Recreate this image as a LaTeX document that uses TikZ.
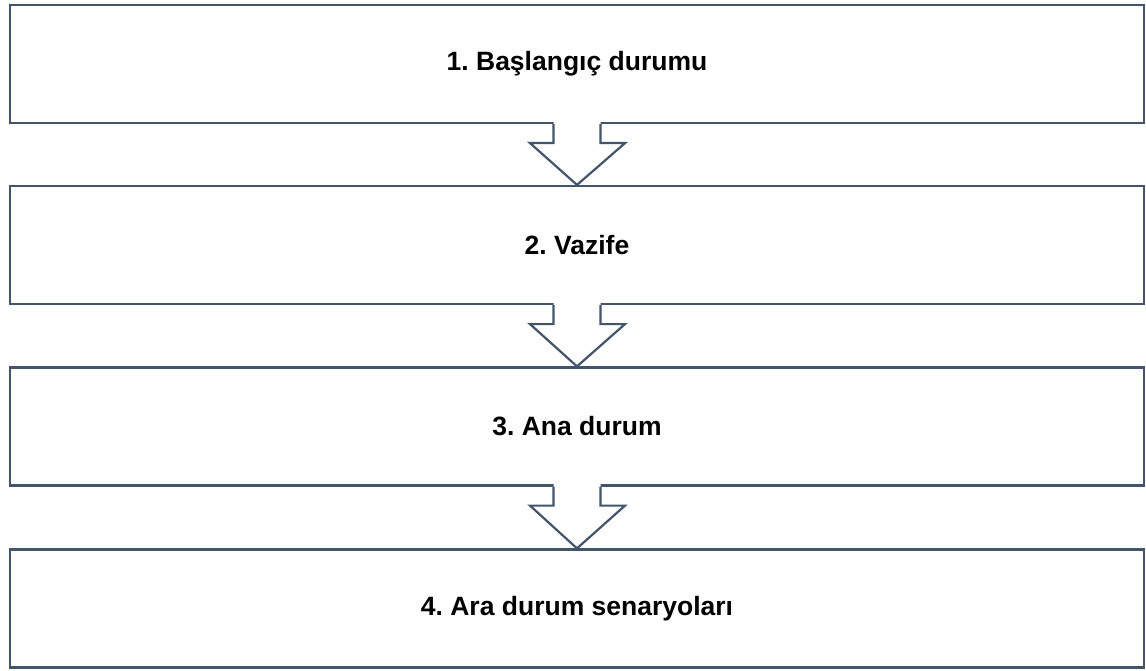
\documentclass[tikz,border=0pt]{standalone}
\usepackage{fontspec}
\setmainfont{Liberation Sans}
\definecolor{edge}{HTML}{44546A}
\begin{document}
\frenchspacing
\begin{tikzpicture}[x=1pt,y=-1pt,
  stagebox/.style={draw=edge,line width=2.2pt,fill=white,minimum width=1134pt,minimum height=118pt,inner sep=0pt,font=\fontsize{26.5}{30}\selectfont\bfseries},
  blockarrow/.style={draw=edge,line width=2.2pt,line join=miter}]
\useasboundingbox (0,0) rectangle (1146,671);
\node[stagebox] (s1) at (577,64) {1. Başlangıç durumu};
\node[stagebox] (s2) at (577,245) {2. Vazife};
\node[stagebox] (s3) at (577,426.5) {3. Ana durum};
\node[stagebox] (s4) at (577,608.5) {4. Ara durum senaryoları};
\foreach \a/\b in {s1/s2,s2/s3,s3/s4}{
  \coordinate (t) at (\a.south);
  \coordinate (h) at (\b.north);
  \fill[white] ([xshift=-23.5pt,yshift=3pt]t) -- ([xshift=-23.5pt,yshift=-19pt]t) -- ([xshift=-47pt,yshift=-19pt]t) -- (h) -- ([xshift=48pt,yshift=-19pt]t) -- ([xshift=23.5pt,yshift=-19pt]t) -- ([xshift=23.5pt,yshift=3pt]t) -- cycle;
  \draw[blockarrow] ([xshift=-23.5pt]t) -- ([xshift=-23.5pt,yshift=-19pt]t) -- ([xshift=-47pt,yshift=-19pt]t) -- (h) -- ([xshift=48pt,yshift=-19pt]t) -- ([xshift=23.5pt,yshift=-19pt]t) -- ([xshift=23.5pt]t);
}
\end{tikzpicture}
\end{document}
